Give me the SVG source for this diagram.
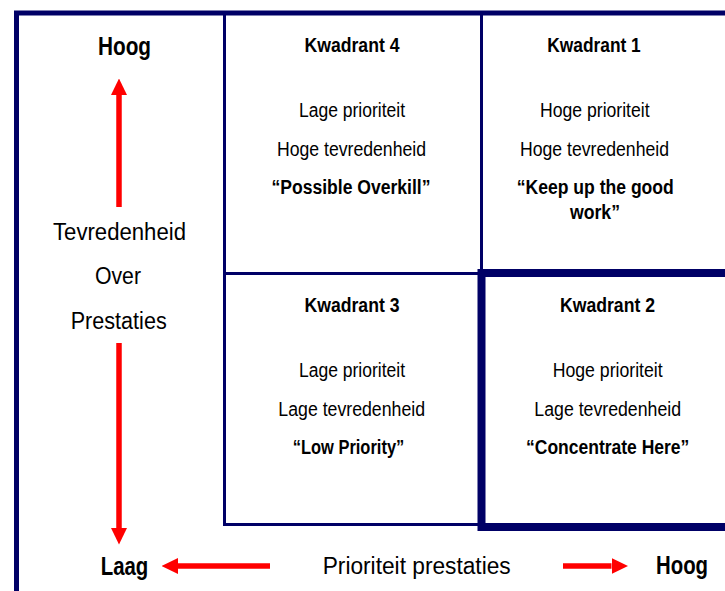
<svg xmlns="http://www.w3.org/2000/svg" width="725" height="591" viewBox="0 0 725 591">
  <style>
    text { font-family: "Liberation Sans Narrow", "Liberation Sans", Arial, sans-serif; fill: #000; text-anchor: middle; }
    .axis { font-size: 23px; }
    .axisb { font-size: 25px; font-weight: bold; }
    .title { font-size: 20px; font-weight: bold; }
    .body { font-size: 20px; }
    .quote { font-size: 20px; font-weight: bold; }
    .frame { fill: none; stroke: #000066; stroke-width: 5; }
    .grid { fill: none; stroke: #000066; stroke-width: 3; }
    .focus { fill: none; stroke: #000066; stroke-width: 8; }
    .arrow { fill: none; stroke: #ff0000; stroke-width: 5.5; marker-end: url(#head); }
  </style>
  <defs>
    <marker id="head" viewBox="0 0 16.5 16" refX="0" refY="8" markerWidth="16.5" markerHeight="16" markerUnits="userSpaceOnUse" orient="auto">
      <path d="M0,0 L16.5,8 L0,16 Z" fill="#ff0000"/>
    </marker>
  </defs>

  <rect width="725" height="591" fill="#fff"/>

  <!-- outer frame (open to the right and bottom) -->
  <path class="frame" d="M16.5,591 V13 H725"/>

  <!-- quadrant grid -->
  <g id="grid">
    <path class="grid" d="M224.5,13 V524.5 H481"/>
    <path class="grid" d="M481.5,13 V273.5 H224.5"/>
    <path class="focus" d="M725,273 H481.5 V527 H725"/>
  </g>

  <!-- axis arrows -->
  <g id="connectors">
    <path class="arrow" d="M119,207 V95"/>
    <path class="arrow" d="M119,343 V528"/>
    <path class="arrow" d="M270,566 H178"/>
    <path class="arrow" d="M563,566 H611.5"/>
  </g>

  <!-- vertical axis labels -->
  <g id="axis-satisfaction">
    <text class="axisb" x="124.5" y="55" textLength="53" lengthAdjust="spacingAndGlyphs">Hoog</text>
    <text class="axis" x="119.5" y="239.5" textLength="133" lengthAdjust="spacingAndGlyphs">Tevredenheid</text>
    <text class="axis" x="118" y="283.5" textLength="46" lengthAdjust="spacingAndGlyphs">Over</text>
    <text class="axis" x="118.7" y="328.5" textLength="96" lengthAdjust="spacingAndGlyphs">Prestaties</text>
    <text class="axisb" x="124.5" y="574.5" textLength="47.6" lengthAdjust="spacingAndGlyphs">Laag</text>
  </g>

  <!-- horizontal axis labels -->
  <g id="axis-priority">
    <text class="axis" x="416.7" y="573.5" textLength="188" lengthAdjust="spacingAndGlyphs">Prioriteit prestaties</text>
    <text class="axisb" x="682" y="573.5" textLength="52" lengthAdjust="spacingAndGlyphs">Hoog</text>
  </g>

  <g id="kwadrant-4">
    <text class="title" x="352" y="51.7" textLength="95" lengthAdjust="spacingAndGlyphs">Kwadrant 4</text>
    <text class="body" x="352" y="116.7" textLength="106" lengthAdjust="spacingAndGlyphs">Lage prioriteit</text>
    <text class="body" x="351.5" y="156" textLength="149" lengthAdjust="spacingAndGlyphs">Hoge tevredenheid</text>
    <text class="quote" x="351" y="194" textLength="159" lengthAdjust="spacingAndGlyphs">“Possible Overkill”</text>
  </g>

  <g id="kwadrant-1">
    <text class="title" x="594" y="51.7" textLength="93.4" lengthAdjust="spacingAndGlyphs">Kwadrant 1</text>
    <text class="body" x="594.8" y="116.7" textLength="109.7" lengthAdjust="spacingAndGlyphs">Hoge prioriteit</text>
    <text class="body" x="594.5" y="156" textLength="149" lengthAdjust="spacingAndGlyphs">Hoge tevredenheid</text>
    <text class="quote" x="595.3" y="194" textLength="157" lengthAdjust="spacingAndGlyphs">“Keep up the good</text>
    <text class="quote" x="595" y="219.3" textLength="50" lengthAdjust="spacingAndGlyphs">work”</text>
  </g>

  <g id="kwadrant-3">
    <text class="title" x="352" y="311.7" textLength="95" lengthAdjust="spacingAndGlyphs">Kwadrant 3</text>
    <text class="body" x="352" y="377" textLength="106" lengthAdjust="spacingAndGlyphs">Lage prioriteit</text>
    <text class="body" x="351.7" y="416" textLength="146.7" lengthAdjust="spacingAndGlyphs">Lage tevredenheid</text>
    <text class="quote" x="348.5" y="454" textLength="111.6" lengthAdjust="spacingAndGlyphs">“Low Priority”</text>
  </g>

  <g id="kwadrant-2">
    <text class="title" x="607.5" y="311.7" textLength="95" lengthAdjust="spacingAndGlyphs">Kwadrant 2</text>
    <text class="body" x="607.7" y="377" textLength="110" lengthAdjust="spacingAndGlyphs">Hoge prioriteit</text>
    <text class="body" x="607.7" y="416" textLength="146.7" lengthAdjust="spacingAndGlyphs">Lage tevredenheid</text>
    <text class="quote" x="607.7" y="454" textLength="163.3" lengthAdjust="spacingAndGlyphs">“Concentrate Here”</text>
  </g>
</svg>
